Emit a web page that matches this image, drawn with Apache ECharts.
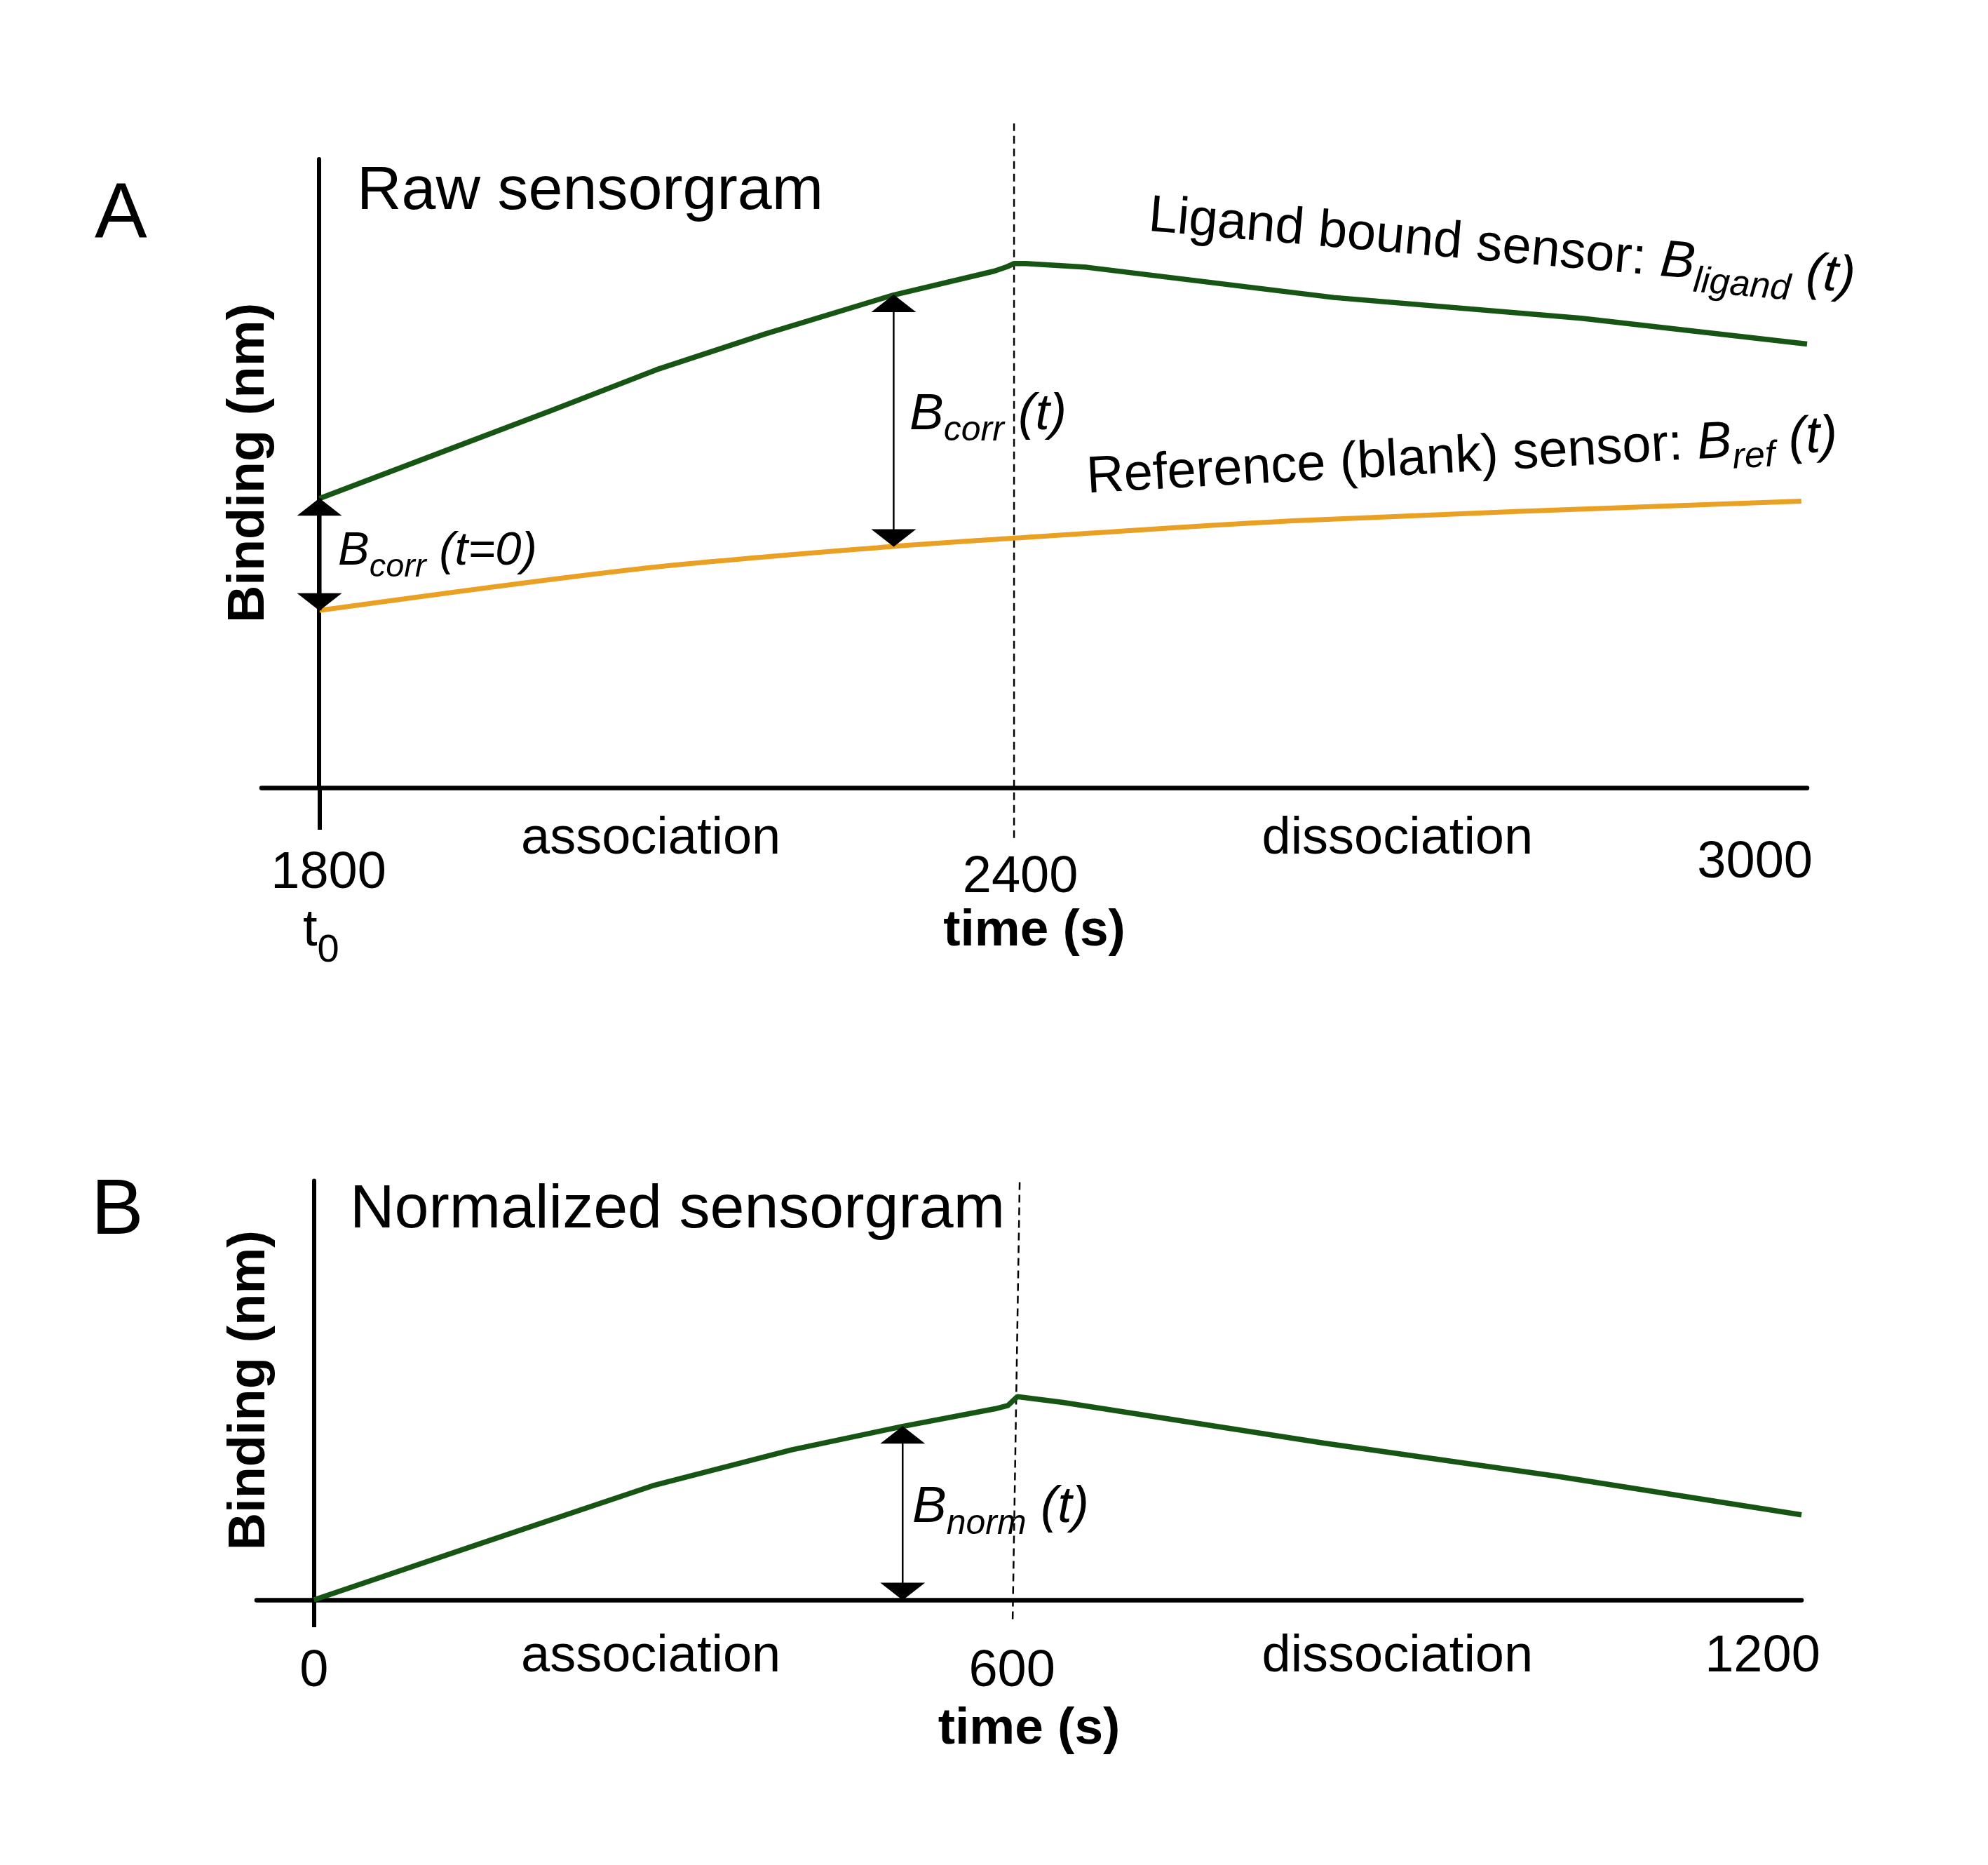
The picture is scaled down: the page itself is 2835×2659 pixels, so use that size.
<!DOCTYPE html>
<html>
<head>
<meta charset="utf-8">
<script src="https://cdn.jsdelivr.net/npm/echarts@6/dist/echarts.min.js"></script>
<style>
html,body{margin:0;padding:0;background:#ffffff;}
#chart{width:2835px;height:2659px;}
</style>
</head>
<body>
<div id="chart"></div>
<script>
// ---------- Panel A: raw sensorgram ----------
const rawTime   = [1800, 1900, 2000, 2091, 2185, 2296, 2383, 2394, 2400, 2410, 2463, 2676, 2890, 3085];
const rawLigand = [4.60, 5.30, 6.00, 6.65, 7.22, 7.84, 8.22, 8.29, 8.34, 8.34, 8.28, 7.80, 7.47, 7.06];
const refTime   = [1800, 2075, 2296, 2400, 2645, 3080];
const rawRef    = [2.82, 3.48, 3.84, 3.97, 4.25, 4.56];
const rawTicks  = [1800, 2400, 3000];
// ---------- Panel B: normalized sensorgram ----------
const normTime   = [0, 145, 289, 408, 503, 582, 593, 601, 640, 863, 1062, 1271];
const normValues = [0, 1.37, 2.72, 3.58, 4.14, 4.56, 4.64, 4.85, 4.71, 3.74, 2.95, 2.03];
const normTicks  = [0, 600, 1200];
// switch from association to dissociation
const switchRaw = 2400;
const switchNorm = 600;

const FONT = "'Liberation Sans', Arial, Helvetica, sans-serif";
const BLACK = '#000000';
const GREEN = '#175514';
const ORANGE = '#E9A023';
const MID = 0.3465; // canvas 'middle' baseline offset (fraction of font size)

const zip = (xs, ys) => xs.map((x, i) => [x, ys[i]]);

function plainText(x, baseline, text, F, weight) {
  return {
    type: 'text', x: x, y: baseline - MID * F, silent: true,
    style: {
      text: text, fill: BLACK, fontSize: F, fontFamily: FONT,
      fontWeight: weight || 'normal',
      textAlign: 'left', textVerticalAlign: 'middle'
    }
  };
}

function richText(x, baseline, parts, F, S, shift, rotDeg) {
  const p = 2 * (shift + MID * (F - S));
  const d = MID * F;
  const th = (rotDeg || 0) * Math.PI / 180;
  const base = { fontFamily: FONT, fill: BLACK, lineHeight: F };
  return {
    type: 'text',
    x: x - d * Math.sin(th),
    y: baseline - d * Math.cos(th),
    rotation: th, silent: true,
    style: {
      text: parts.map(pt => '{' + pt[0] + '|' + pt[1] + '}').join(''),
      fill: BLACK, fontSize: F, fontFamily: FONT,
      textAlign: 'left', textVerticalAlign: 'middle',
      rich: {
        u: Object.assign({}, base, { fontSize: F }),
        i: Object.assign({}, base, { fontSize: F, fontStyle: 'italic' }),
        s: Object.assign({}, base, { fontSize: S, fontStyle: 'italic', padding: [p, 0, 0, 0] }),
        su: Object.assign({}, base, { fontSize: S, padding: [p, 0, 0, 0] })
      }
    }
  };
}

function tickRich(pads) {
  const r = {};
  Object.keys(pads).forEach(k => {
    r[k] = { fontSize: 74, lineHeight: 74, fontFamily: FONT, color: BLACK, padding: pads[k] };
  });
  return r;
}

const topKeys = { 1800: 'a', 2400: 'b', 3000: 'c' };
const botKeys = { 0: 'a', 600: 'b', 1200: 'c' };

// double-headed arrows: [time, lower value, upper value, shaft width]
const arrowsA = [
  [rawTime[0], rawRef[0], rawLigand[0], 6],
  [rawTime[5], rawRef[2], rawLigand[5], 2.5]
];
const arrowsB = [
  [normTime[4], 0, normValues[4], 2.5]
];

function shafts(arrows, xi) {
  return arrows.map(a => ({
    name: 'arrow shaft', type: 'line', xAxisIndex: xi, yAxisIndex: xi,
    symbol: 'none', silent: true, z: 4,
    data: [[a[0], a[1]], [a[0], a[2]]],
    lineStyle: { color: BLACK, width: a[3] }
  }));
}
function heads(arrows, xi) {
  const pts = [];
  arrows.forEach(a => {
    pts.push({ value: [a[0], a[2]], symbolRotate: 0, symbolOffset: [0, 12] });
    pts.push({ value: [a[0], a[1]], symbolRotate: 180, symbolOffset: [0, -12] });
  });
  return {
    name: 'arrow heads', type: 'scatter', xAxisIndex: xi, yAxisIndex: xi,
    silent: true, z: 5, clip: false,
    symbol: 'triangle', symbolSize: [64, 25],
    itemStyle: { color: BLACK, opacity: 1 },
    data: pts
  };
}

const chart = echarts.init(document.getElementById('chart'), null, { renderer: 'canvas' });

const option = {
  backgroundColor: '#ffffff',
  animation: false,
  tooltip: { show: false },
  grid: [
    { left: 373, top: 227, width: 2204, height: 896, containLabel: false, outerBoundsMode: 'none' },
    { left: 366, top: 1683.5, width: 2203, height: 597.5, containLabel: false, outerBoundsMode: 'none' }
  ],
  xAxis: [
    {
      type: 'value', gridIndex: 0, min: 1750, max: 3085,
      splitLine: { show: false },
      axisLine: { show: true, onZero: false, lineStyle: { color: BLACK, width: 6.5 } },
      axisTick: { show: true, customValues: [rawTicks[0]], length: 60, inside: false,
                  lineStyle: { color: BLACK, width: 6 } },
      axisLabel: {
        show: true, customValues: rawTicks, margin: 71,
        formatter: v => '{' + topKeys[v] + '|' + v + '}',
        rich: tickRich({ a: [30, 0, 0, 26], b: [42, 0, 0, 18], c: [0, 0, 0, 132] })
      },
      name: 'time (s)', nameLocation: 'middle', nameGap: 168,
      nameTextStyle: { fontSize: 73, fontWeight: 'bold', fontFamily: FONT, color: BLACK, lineHeight: 73 }
    },
    {
      type: 'value', gridIndex: 1, min: -49, max: 1271,
      splitLine: { show: false },
      axisLine: { show: true, onZero: false, lineStyle: { color: BLACK, width: 6.5 } },
      axisTick: { show: true, customValues: [normTicks[0]], length: 39, inside: false,
                  lineStyle: { color: BLACK, width: 6 } },
      axisLabel: {
        show: true, customValues: normTicks, margin: 45,
        formatter: v => '{' + botKeys[v] + '|' + v + '}',
        rich: tickRich({ a: [42, 0, 0, 0], b: [42, 12, 0, 0], c: [0, 0, 0, 126] })
      },
      name: 'time (s)', nameLocation: 'middle', nameGap: 148,
      nameTextStyle: { fontSize: 73, fontWeight: 'bold', fontFamily: FONT, color: BLACK, lineHeight: 73 }
    }
  ],
  yAxis: [
    {
      type: 'value', gridIndex: 0, min: 0, max: 10, offset: -82,
      splitLine: { show: false }, axisTick: { show: false }, axisLabel: { show: false },
      axisLine: { show: true, onZero: false, lineStyle: { color: BLACK, width: 6 } },
      name: 'Binding (nm)', nameLocation: 'middle', nameGap: 62,
      nameTextStyle: { fontSize: 74, fontWeight: 'bold', fontFamily: FONT, color: BLACK, lineHeight: 74,
                       padding: [0, 0, 0, 30] }
    },
    {
      type: 'value', gridIndex: 1, min: 0, max: 10, offset: -81.6,
      splitLine: { show: false }, axisTick: { show: false }, axisLabel: { show: false },
      axisLine: { show: true, onZero: false, lineStyle: { color: BLACK, width: 6 } },
      name: 'Binding (nm)', nameLocation: 'middle', nameGap: 54,
      nameTextStyle: { fontSize: 74, fontWeight: 'bold', fontFamily: FONT, color: BLACK, lineHeight: 74 }
    }
  ],
  series: [
    {
      name: 'switch A', type: 'line', xAxisIndex: 0, yAxisIndex: 0, clip: false,
      silent: true, symbol: 'none', z: 1,
      data: [[switchRaw, -0.80], [switchRaw, 10.57]],
      lineStyle: { color: BLACK, width: 2.5, type: [11, 7] }
    },
    {
      name: 'switch B', type: 'line', xAxisIndex: 1, yAxisIndex: 1, clip: false,
      silent: true, symbol: 'none', z: 1,
      data: [[switchNorm - 3, -0.46], [switchNorm + 3, 10.0]],
      lineStyle: { color: BLACK, width: 2.5, type: [11, 7] }
    },
    {
      name: 'Reference (blank) sensor', type: 'line', xAxisIndex: 0, yAxisIndex: 0,
      symbol: 'none', silent: true, z: 2, smooth: 0.3,
      data: zip(refTime, rawRef),
      lineStyle: { color: ORANGE, width: 7 }
    },
    {
      name: 'Ligand bound sensor', type: 'line', xAxisIndex: 0, yAxisIndex: 0,
      symbol: 'none', silent: true, z: 3,
      data: zip(rawTime, rawLigand),
      lineStyle: { color: GREEN, width: 7.5 }
    },
    {
      name: 'Normalized', type: 'line', xAxisIndex: 1, yAxisIndex: 1,
      symbol: 'none', silent: true, z: 3,
      data: zip(normTime, normValues),
      lineStyle: { color: GREEN, width: 7.5 }
    }
  ].concat(shafts(arrowsA, 0), shafts(arrowsB, 1), [heads(arrowsA, 0), heads(arrowsB, 1)]),
  graphic: [
    plainText(135, 346, 'A', 112),
    plainText(130, 1767, 'B', 112),
    plainText(509, 304, 'Raw sensorgram', 88),
    plainText(499, 1756, 'Normalized sensorgram', 88),
    plainText(743, 1222, 'association', 74),
    plainText(1799.5, 1222, 'dissociation', 74),
    plainText(743, 2388, 'association', 74),
    plainText(1799.5, 2388, 'dissociation', 74),
    richText(432, 1353, [['u', 't'], ['su', '0']], 74, 56, 22, 0),
    richText(482, 810, [['i', 'B'], ['s', 'corr'], ['i', ' (t=0)']], 67, 47, 15, 0),
    richText(1297, 616.5, [['i', 'B'], ['s', 'corr'], ['i', ' (t)']], 73, 50, 15, 0),
    richText(1301, 2174.5, [['i', 'B'], ['s', 'norm'], ['i', ' (t)']], 73, 50, 16, 0),
    richText(1636, 334, [['u', 'Ligand bound sensor: '], ['i', 'B'], ['s', 'ligand'], ['i', ' (t)']], 74, 52, 17, -5),
    richText(1551, 707.7, [['u', 'Reference (blank) sensor: '], ['i', 'B'], ['s', 'ref'], ['i', ' (t)']], 74, 52, 15, 3.2)
  ]
};

chart.setOption(option);
</script>
</body>
</html>
